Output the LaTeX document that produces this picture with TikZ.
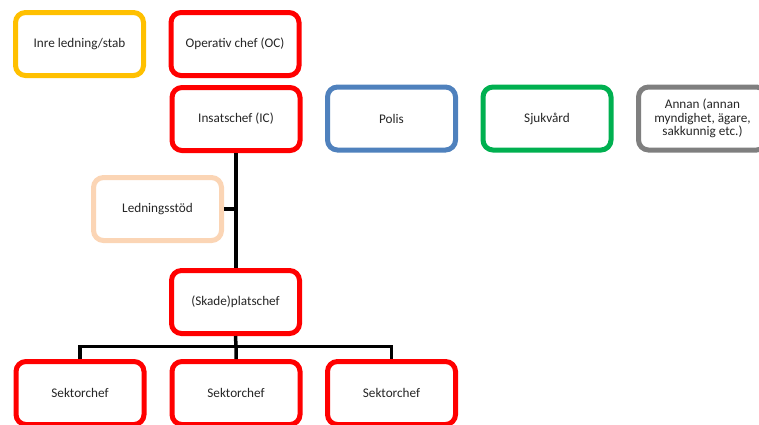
\documentclass[tikz,border=0pt]{standalone}
\usepackage{fontspec}
\setmainfont{Carlito}
\usepackage{tikz}
\usetikzlibrary{positioning}
\definecolor{rodbox}{HTML}{FF0000}
\definecolor{gulbox}{HTML}{FFC000}
\definecolor{blabox}{HTML}{4F81BD}
\definecolor{gronbox}{HTML}{00B050}
\definecolor{grabox}{HTML}{7F7F7F}
\definecolor{persikabox}{HTML}{FBD5B5}

\begin{document}
\begin{tikzpicture}[x=1pt,y=-1pt,
		ruta/.style={draw=#1, line width=5pt, rounded corners=10pt, fill=white,
			minimum width=128pt, minimum height=63pt, inner sep=2pt,
			align=center, font=\fontsize{13.2}{13.5}\selectfont, text=black!85},
		linje/.style={line width=3.5pt}]
		%\draw [help lines] (0,0) grid (759,424);
		\useasboundingbox (0,0) rectangle (759,424);

		\node [ruta=gulbox] (inre) at (79.5,44) {Inre ledning/stab};
		\node [ruta=rodbox] (oc) at (235,44) {Operativ chef (OC)};
		\node [ruta=rodbox] (ic) at (236,119) {Insatschef (IC)};
		\node [ruta=blabox] (polis) at (391.5,118.5) {Polis};
		\node [ruta=gronbox] (sjuk) at (547,118.5) {Sjukvård};
		\node [ruta=grabox] (annan) at (702.5,118.5) {Annan (annan\\myndighet, ägare,\\sakkunnig etc.)};
		\node [ruta=persikabox] (stod) at (157.5,209) {Ledningsstöd};
		\node [ruta=rodbox] (skade) at (235.5,302) {(Skade)platschef};
		\node [ruta=rodbox] (sek1) at (80,393) {Sektorchef};
		\node [ruta=rodbox] (sek2) at (236,393) {Sektorchef};
		\node [ruta=rodbox] (sek3) at (391.5,393) {Sektorchef};

		\coordinate (buss) at (236,346.5);

		\begin{scope}[on background layer/.try]
		\draw [linje] (ic.south) -- (ic.south |- skade.north);
		\draw [linje] (stod.east) -- (stod.east -| ic.south);
		\draw [linje] (skade.south) -- (buss) -- (sek2.north);
		\draw [linje] (sek1.north) |- (buss) -| (sek3.north);
		\end{scope}
	\end{tikzpicture}
\end{document}
